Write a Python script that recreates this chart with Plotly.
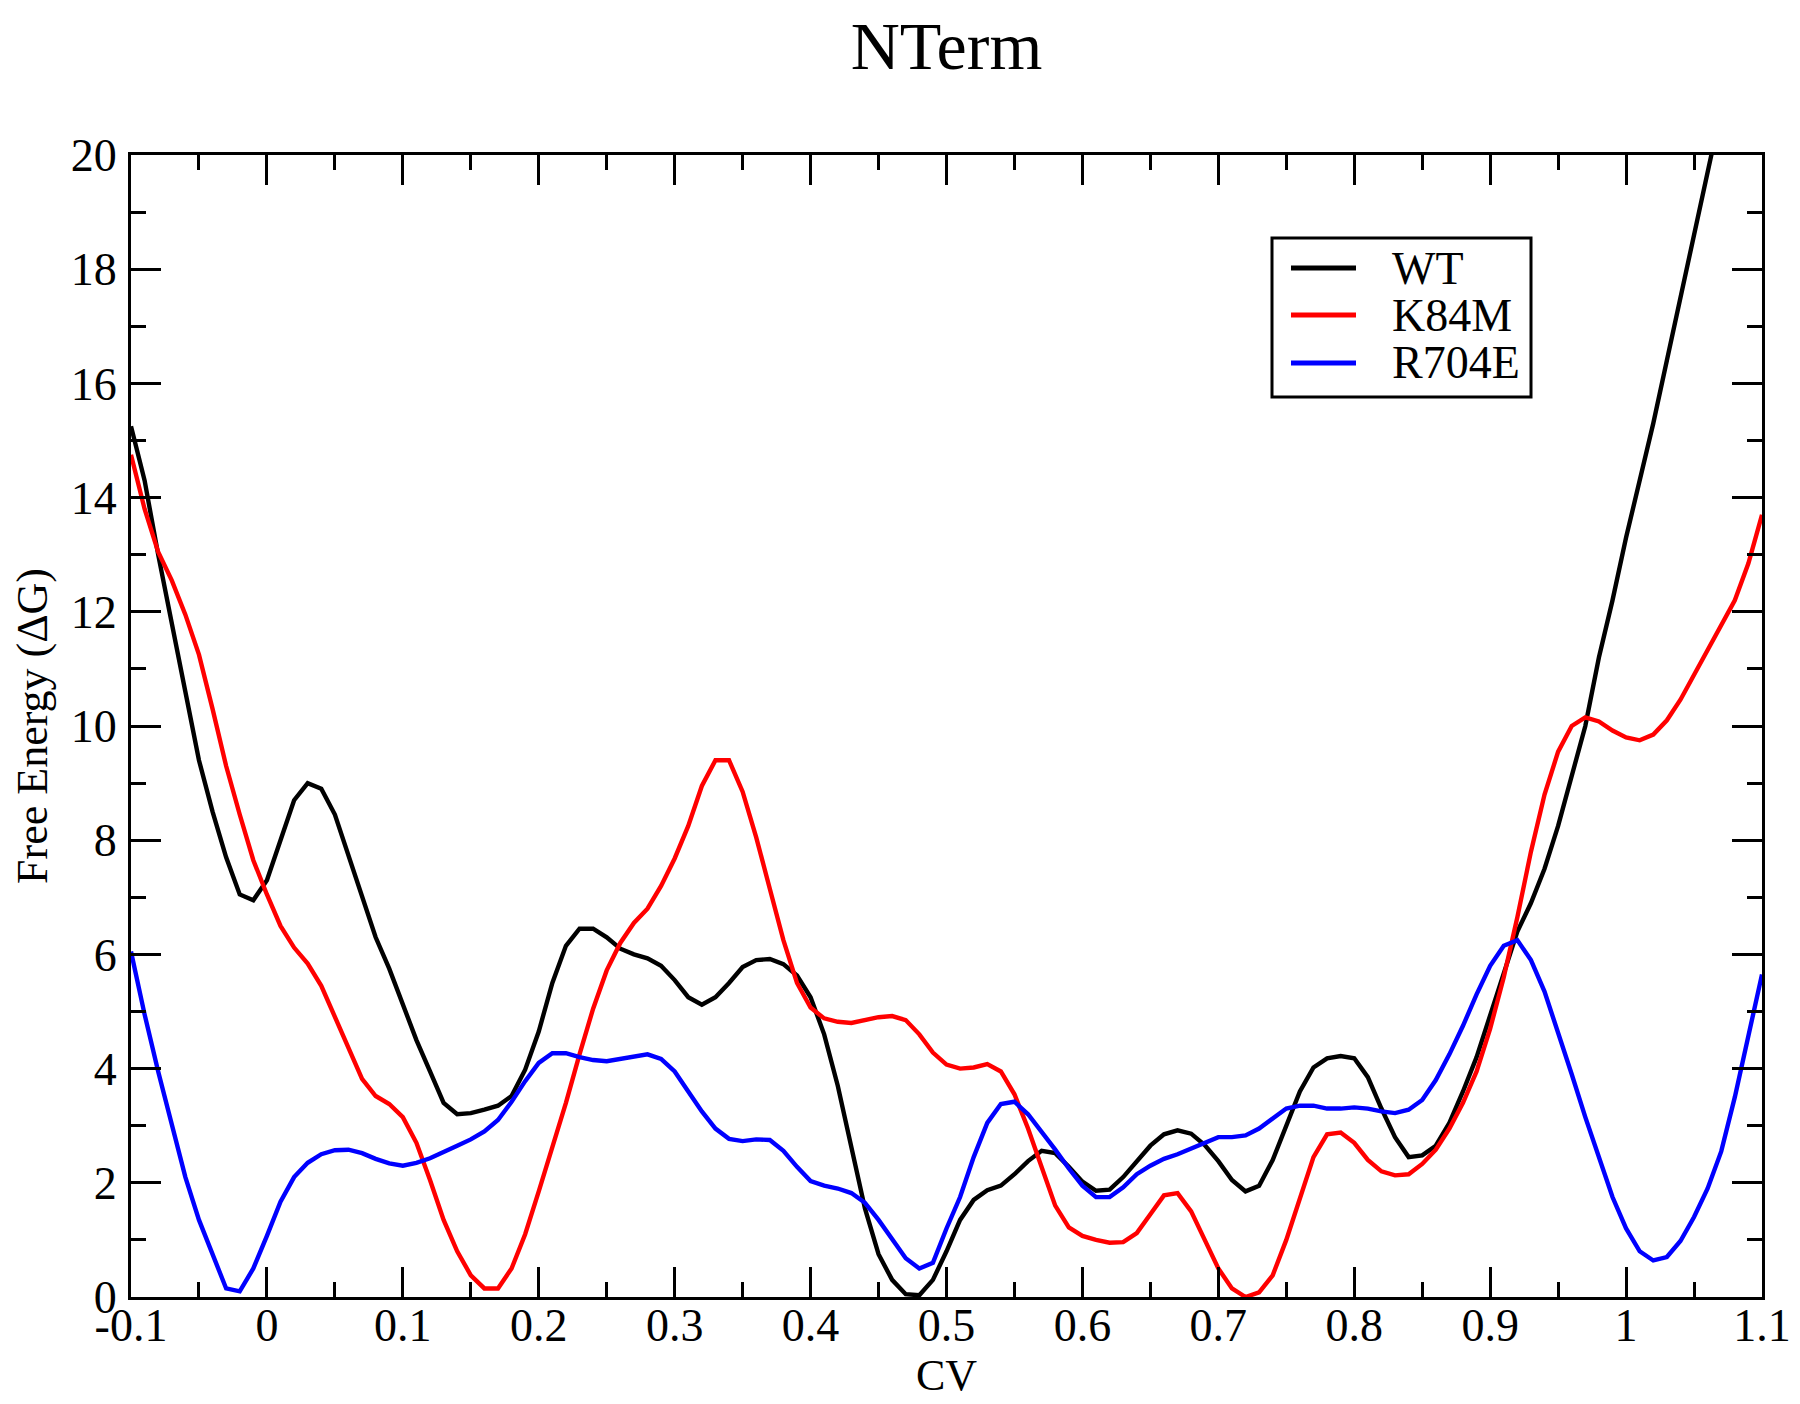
import plotly.graph_objects as go

# CV grid (step 0.01 from -0.1 to 1.1)
cv = [round(-0.10 + 0.01 * i, 2) for i in range(121)]

wt = [15.25, 14.3, 13.0, 11.75, 10.6, 9.4, 8.5, 7.7, 7.05, 6.95,
      7.3, 8.0, 8.7, 9.0, 8.9, 8.45, 7.75, 7.0, 6.3, 5.75,
      5.12, 4.5, 3.95, 3.4, 3.2, 3.22, 3.28, 3.35, 3.52, 3.98,
      4.65, 5.5, 6.15, 6.45, 6.45, 6.3, 6.1, 6.0, 5.93, 5.8,
      5.55, 5.25, 5.12, 5.25, 5.5, 5.78, 5.9, 5.92, 5.83, 5.63,
      5.25, 4.6, 3.7, 2.6, 1.55, 0.75, 0.3, 0.05, 0.03, 0.3,
      0.8, 1.35, 1.7, 1.87, 1.95, 2.15, 2.38, 2.56, 2.52, 2.28,
      2.02, 1.86, 1.88, 2.1, 2.38, 2.65, 2.85, 2.92, 2.86, 2.66,
      2.38, 2.05, 1.85, 1.95, 2.4, 3.0, 3.6, 4.02, 4.18, 4.22,
      4.18, 3.85, 3.3, 2.8, 2.45, 2.48, 2.65, 3.05, 3.6, 4.2,
      4.95, 5.65, 6.4, 6.9, 7.5, 8.25, 9.1, 10.0, 11.2, 12.2,
      13.3, 14.3, 15.3, 16.4, 17.5, 18.6, 19.7, 20.8]

k84m = [14.75, 13.8, 13.05, 12.55, 11.95, 11.25, 10.3, 9.3, 8.45, 7.65,
        7.05, 6.5, 6.12, 5.84, 5.45, 4.92, 4.35, 3.82, 3.52, 3.38,
        3.15, 2.7, 2.05, 1.35, 0.8, 0.38, 0.15, 0.15, 0.5, 1.1,
        1.85, 2.6, 3.4, 4.25, 5.05, 5.72, 6.2, 6.55, 6.8, 7.2,
        7.68, 8.25, 8.95, 9.4, 9.4, 8.85, 8.05, 7.15, 6.25, 5.5,
        5.07, 4.88, 4.82, 4.8, 4.85, 4.9, 4.92, 4.85, 4.6, 4.28,
        4.07, 4.0, 4.02, 4.08, 3.95, 3.55, 2.95, 2.25, 1.6, 1.22,
        1.07, 1.0, 0.95, 0.96, 1.12, 1.45, 1.78, 1.82, 1.5, 1.0,
        0.5, 0.15, 0.0, 0.08, 0.38, 1.0, 1.75, 2.45, 2.85, 2.88,
        2.7, 2.4, 2.2, 2.13, 2.15, 2.33, 2.58, 2.95, 3.4, 3.95,
        4.7, 5.6, 6.65, 7.8, 8.8, 9.55, 10.0, 10.15, 10.08, 9.92,
        9.8, 9.75, 9.85, 10.1, 10.46, 10.9, 11.3, 11.75, 12.2, 12.85,
        13.7]

r704e = [6.05, 4.95, 3.95, 3.02, 2.1, 1.35, 0.75, 0.15, 0.1, 0.5,
         1.07, 1.67, 2.1, 2.35, 2.5, 2.57, 2.58, 2.52, 2.42, 2.34,
         2.3, 2.35, 2.43, 2.53, 2.65, 2.76, 2.9, 3.1, 3.42, 3.78,
         4.1, 4.27, 4.27, 4.2, 4.15, 4.13, 4.17, 4.22, 4.25, 4.17,
         3.95, 3.6, 3.25, 2.95, 2.77, 2.73, 2.76, 2.75, 2.56, 2.28,
         2.03, 1.95, 1.9, 1.82, 1.65, 1.35, 1.0, 0.68, 0.5, 0.6,
         1.2, 1.75, 2.45, 3.05, 3.38, 3.42, 3.2, 2.9, 2.58, 2.25,
         1.95, 1.75, 1.75, 1.92, 2.15, 2.3, 2.42, 2.5, 2.6, 2.72,
         2.8, 2.8, 2.83, 2.95, 3.12, 3.3, 3.35, 3.35, 3.3, 3.3,
         3.32, 3.3, 3.25, 3.22, 3.28, 3.45, 3.8, 4.25, 4.75, 5.3,
         5.8, 6.15, 6.25, 5.9, 5.35, 4.65, 3.9, 3.15, 2.45, 1.75,
         1.2, 0.8, 0.64, 0.7, 0.98, 1.4, 1.9, 2.55, 3.5, 4.6,
         5.65]

series_names = ["WT", "K84M", "R704E"]
series_colors = ["#000000", "#ff0000", "#0000ff"]

x_tickvals = [-0.1, 0, 0.1, 0.2, 0.3, 0.4, 0.5, 0.6, 0.7, 0.8, 0.9, 1.0, 1.1]
x_ticktext = ["-0.1", "0", "0.1", "0.2", "0.3", "0.4", "0.5", "0.6", "0.7", "0.8", "0.9", "1", "1.1"]
y_tickvals = [0, 2, 4, 6, 8, 10, 12, 14, 16, 18, 20]
y_ticktext = [str(v) for v in y_tickvals]

FONT = "Liberation Serif, Times New Roman, serif"
# the page body adds an 8px margin, so the figure is sized to fit the window
W, H = 1792, 1396
ML, MR, MT, MB = 123, 38, 147, 107
PW, PH = W - ML - MR, H - MT - MB


def px_to_paper_x(px):
    return (px - ML) / PW


def px_to_paper_y(py):
    return (H - MB - py) / PH


fig = go.Figure()
for name, ys, col in zip(series_names, [wt, k84m, r704e], series_colors):
    fig.add_trace(go.Scatter(
        x=cv[:len(ys)], y=ys, mode="lines", name=name,
        line=dict(color=col, width=4.4), showlegend=False,
    ))

axis_common = dict(
    showline=True, linecolor="black", linewidth=3, mirror="allticks",
    ticks="inside", ticklen=30, tickwidth=3, tickcolor="black",
    showgrid=False, zeroline=False, automargin=False,
    tickfont=dict(family=FONT, size=46, color="black"),
)

# Legend box (figure pixel positions)
legend_box = dict(x0=1264, x1=1523, y0=230, y1=389)
legend_line_x = (1283, 1348)
legend_text_x = 1382
legend_row_y = [260, 307, 355]

shapes = [dict(type="rect", xref="paper", yref="paper",
               x0=px_to_paper_x(legend_box["x0"]), x1=px_to_paper_x(legend_box["x1"]),
               y0=px_to_paper_y(legend_box["y1"]), y1=px_to_paper_y(legend_box["y0"]),
               line=dict(color="black", width=3), fillcolor="white", layer="above")]
annotations = []
for name, col, ry in zip(series_names, series_colors, legend_row_y):
    shapes.append(dict(type="line", xref="paper", yref="paper",
                       x0=px_to_paper_x(legend_line_x[0]), x1=px_to_paper_x(legend_line_x[1]),
                       y0=px_to_paper_y(ry), y1=px_to_paper_y(ry),
                       line=dict(color=col, width=4.8), layer="above"))
    annotations.append(dict(text=name, xref="paper", yref="paper",
                            x=px_to_paper_x(legend_text_x), y=px_to_paper_y(ry),
                            xanchor="left", yanchor="middle", showarrow=False,
                            font=dict(family=FONT, size=46, color="black")))

fig.update_layout(
    width=W, height=H, autosize=False,
    margin=dict(l=ML, r=MR, t=MT, b=MB),
    paper_bgcolor="white", plot_bgcolor="white",
    font=dict(family=FONT, color="black"),
    title=dict(text="NTerm", x=0.5, xref="paper", xanchor="center",
               y=1 - 37 / H, yref="container", yanchor="middle",
               font=dict(family=FONT, size=68, color="black")),
    xaxis=dict(range=[-0.1, 1.1], tickvals=x_tickvals, ticktext=x_ticktext,
               ticklabelstandoff=-14,
               title=dict(text="CV", standoff=6, font=dict(family=FONT, size=44, color="black")),
               minor=dict(ticks="inside", ticklen=15, tickwidth=3, tickcolor="black", dtick=0.05, tick0=-0.1),
               **axis_common),
    yaxis=dict(range=[0, 20], tickvals=y_tickvals, ticktext=y_ticktext,
               ticklabelstandoff=2,
               title=dict(text="Free Energy (ΔG)", standoff=13, font=dict(family=FONT, size=44, color="black")),
               minor=dict(ticks="inside", ticklen=15, tickwidth=3, tickcolor="black", dtick=1, tick0=0),
               **axis_common),
    shapes=shapes,
    annotations=annotations,
    showlegend=False,
)

fig.write_html("out.html")
